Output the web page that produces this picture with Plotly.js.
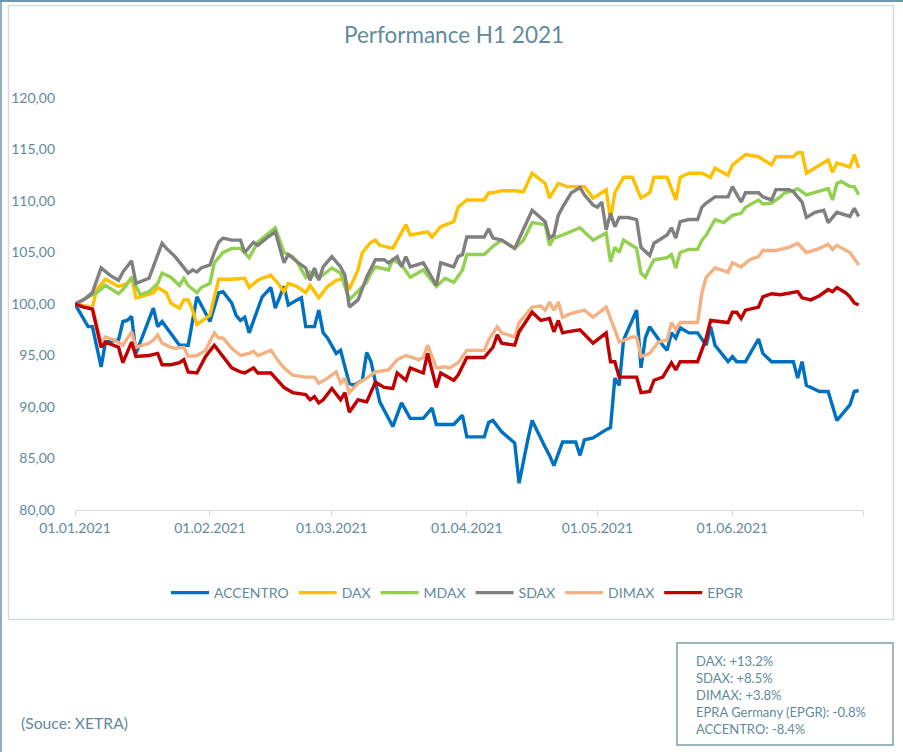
<!DOCTYPE html>
<html>
<head>
<meta charset="utf-8">
<script src="https://cdn.plot.ly/plotly-3.0.1.min.js"></script>
<style>
  body { margin: 0; background: #ffffff; }
  #container { width: 903px; height: 752px; }
</style>
</head>
<body>
<div id="container"></div>
<script>
// values, indexed to 100 on 01.01.2021
// days = calendar days since 01.01.2021
var seriesNames = ['ACCENTRO', 'DAX', 'MDAX', 'SDAX', 'DIMAX', 'EPGR'];
var seriesColors = ['#0070C0', '#FFC000', '#92D050', '#808080', '#F4B183', '#C00000'];

var accentroDays = [0,3,4,6,7,10,11,12,13,14,18,19,20,22,24,26,28,29,31,33,34,36,37,38,39,40,42,43,45,46,48,49,51,52,53,55,56,57,58,60,61,63,64,66,67,68,70,72,73,75,77,80,82,83,87,89,90,94,95,96,98,101,102,104,105,108,109,110,112,115,116,117,119,122,123,124,125,126,129,130,131,132,134,135,136,137,138,139,141,143,145,146,147,150,151,152,154,157,158,160,165,166,167,168,171,173,175,178,179,180];
var accentroValues = [100.0,97.8,97.8,93.9,96.3,96.5,98.3,98.4,98.8,95.2,99.6,97.8,98.3,97.2,96.0,96.0,100.7,99.9,98.3,101.1,101.2,100.1,98.9,98.4,98.7,97.2,99.6,100.7,101.6,99.6,101.7,99.9,100.4,100.6,97.8,97.8,99.4,97.2,96.7,95.2,95.5,92.3,92.1,92.6,95.3,94.4,90.5,89.0,88.1,90.4,88.9,88.9,89.9,88.3,88.3,89.2,87.1,87.1,88.5,88.7,87.6,86.5,82.6,86.8,88.7,86.1,85.3,84.3,86.6,86.6,85.3,86.8,87.0,87.8,88.0,92.8,92.1,96.5,99.4,93.8,96.7,97.8,96.5,96.0,95.5,97.2,96.7,97.7,97.2,97.2,96.0,97.8,96.0,94.4,94.9,94.4,94.4,96.6,95.2,94.4,94.4,92.8,94.4,92.1,91.5,91.5,88.7,90.2,91.5,91.6];

var daxDays = [0,4,5,7,10,12,13,14,15,18,19,21,22,24,25,26,27,28,29,31,32,33,36,39,40,42,43,45,47,48,49,51,53,54,56,58,60,62,63,65,66,68,69,70,73,74,76,77,81,82,84,87,88,90,94,95,96,98,101,103,105,108,109,111,113,117,119,121,122,123,124,126,128,130,132,133,136,138,139,141,144,146,147,150,151,154,157,160,161,165,166,167,168,173,174,175,178,179,180];
var daxValues = [100.0,99.7,101.4,102.4,101.7,102.0,102.6,100.6,100.7,101.1,101.6,101.1,100.1,99.6,100.4,100.4,99.4,98.0,98.3,98.9,100.7,102.4,102.4,102.5,101.6,102.3,102.5,102.8,101.8,101.2,102.0,101.7,101.1,101.8,100.6,101.7,102.3,102.5,101.4,103.3,105.0,106.0,106.2,105.7,105.4,106.2,107.7,106.7,107.0,106.5,107.5,108.0,109.4,110.1,110.1,110.8,110.8,111.0,111.0,110.9,112.7,111.7,110.3,111.7,111.4,111.4,110.3,110.8,111.1,108.2,110.8,112.3,112.3,110.3,110.8,112.3,112.3,110.1,112.3,112.7,112.7,112.3,113.2,112.5,113.5,114.5,114.3,113.5,114.3,114.3,114.7,114.7,112.7,114.0,112.8,113.7,113.3,114.5,113.2];

var mdaxDays = [0,5,7,10,11,13,15,17,19,20,22,24,25,26,28,29,31,32,34,36,38,40,42,44,46,48,50,51,53,54,56,59,61,63,65,67,68,69,72,73,75,77,80,83,85,87,89,90,94,96,98,101,103,105,108,109,110,112,116,117,119,122,123,124,125,126,129,130,131,132,133,136,137,138,139,141,143,144,145,147,149,151,153,154,157,158,160,162,163,165,166,168,173,174,175,176,178,179,180];
var mdaxValues = [100.0,101.1,101.8,101.0,101.4,102.5,100.9,101.2,102.0,103.0,102.6,101.8,102.5,101.8,101.1,101.6,102.0,104.0,105.0,105.4,105.4,104.5,106.0,106.7,107.4,105.0,104.6,104.1,102.6,103.1,102.5,103.5,103.0,100.4,101.2,102.1,103.0,103.6,103.3,104.3,103.8,102.6,103.3,101.7,102.5,102.1,103.3,104.8,104.8,105.6,106.2,105.4,106.2,107.9,107.7,105.7,106.4,106.7,107.4,107.0,106.2,106.9,104.1,105.5,105.0,106.2,105.4,103.0,102.6,103.5,104.3,104.5,104.8,103.5,105.0,105.3,105.3,106.2,106.7,108.2,107.9,108.6,108.8,109.4,110.1,109.7,109.8,110.4,110.8,111.0,111.2,110.6,111.2,110.1,111.7,111.9,111.4,111.4,110.6];

var sdaxDays = [0,2,4,6,8,10,11,13,14,17,20,21,23,24,26,27,28,29,31,32,33,34,36,38,39,41,42,44,46,48,49,51,53,54,55,56,57,59,61,62,63,65,66,67,69,71,72,74,75,76,77,80,81,82,83,84,87,88,89,90,94,95,96,98,101,105,108,109,110,111,112,114,116,117,119,120,121,122,123,124,125,127,129,130,132,133,135,136,137,138,139,141,143,144,145,147,150,151,153,154,157,158,160,161,164,165,167,168,170,172,173,175,178,179,180];
var sdaxValues = [100.0,100.4,101.1,103.5,102.8,102.3,103.1,104.2,102.0,102.5,105.9,105.4,104.6,104.1,103.0,103.3,103.1,103.5,103.8,105.0,106.0,106.4,106.2,106.2,105.0,106.0,105.7,106.4,107.0,104.0,104.8,104.1,103.5,102.3,103.5,102.3,103.6,104.6,103.6,102.8,99.7,100.4,101.4,102.6,104.3,104.3,104.0,104.6,103.6,104.6,103.6,104.0,103.3,102.6,101.8,104.0,103.6,104.6,104.8,106.5,106.5,107.3,106.4,106.2,105.4,109.1,108.0,106.4,106.7,108.6,109.4,110.8,111.3,110.6,109.6,109.4,109.9,107.2,108.8,107.5,108.4,108.4,108.2,105.5,104.7,105.9,106.4,106.7,107.4,106.4,108.0,108.2,108.2,109.4,109.8,110.4,110.4,111.4,109.9,110.8,110.8,110.4,110.1,111.1,111.1,110.9,109.9,108.4,108.9,109.1,107.9,108.9,108.5,109.3,108.5];

var dimaxDays = [0,2,4,6,7,9,11,13,14,17,18,19,20,22,23,25,26,28,30,32,33,34,36,38,40,41,42,45,47,48,50,53,55,56,58,60,61,62,63,65,67,69,72,74,76,79,80,81,83,85,86,88,90,94,95,97,98,101,102,105,107,108,109,110,111,112,114,117,119,122,124,125,128,129,130,132,134,136,137,138,139,143,144,145,147,150,151,153,155,157,158,161,164,166,168,171,173,174,175,178,180];
var dimaxValues = [100.0,99.7,99.7,96.3,96.8,96.5,96.0,97.3,95.8,96.2,96.5,97.0,96.2,95.8,95.7,95.8,94.9,95.0,95.5,97.2,96.7,96.7,95.7,95.0,95.2,95.4,95.0,95.5,94.3,93.8,93.1,92.9,92.9,92.3,92.8,93.4,92.3,92.8,91.4,92.3,92.8,93.4,93.6,94.6,95.0,94.6,94.8,96.0,93.8,93.9,93.8,94.3,95.5,95.5,96.5,97.8,97.2,96.8,98.2,99.7,99.8,99.4,100.2,99.4,100.2,98.7,99.1,99.4,98.7,99.7,97.5,96.3,96.8,96.8,94.9,95.2,96.3,96.5,98.2,97.5,98.2,98.2,101.1,102.6,103.5,103.1,104.0,103.6,104.3,104.6,105.2,105.2,105.5,105.9,105.0,105.4,105.8,105.3,105.7,105.0,103.8];

var epgrDays = [0,2,4,6,7,10,11,13,14,17,19,20,22,24,25,26,28,30,32,34,36,38,39,41,42,45,47,48,50,53,54,55,56,57,59,61,62,63,65,67,69,71,73,74,76,77,80,81,83,84,87,88,90,94,96,97,98,101,102,105,107,109,110,111,112,113,116,119,122,123,124,125,129,130,132,133,135,137,138,139,141,143,145,146,150,151,152,153,154,157,158,160,162,166,167,169,171,173,174,175,177,178,179,180];
var epgrValues = [100.0,99.7,99.5,95.8,96.3,95.8,94.3,96.3,94.9,95.0,95.2,94.1,94.1,94.3,94.6,93.4,93.3,94.9,96.0,94.9,93.8,93.4,93.3,93.8,93.3,93.3,92.4,91.9,91.4,91.2,90.7,91.0,90.4,90.7,91.8,90.7,91.4,89.5,90.7,90.5,92.4,91.9,91.8,93.3,92.6,93.8,93.3,95.2,91.9,93.3,92.6,93.1,94.8,94.8,95.8,97.0,96.2,96.0,97.3,99.2,98.4,98.6,97.3,98.4,97.2,97.3,97.5,96.2,97.2,94.4,94.4,92.9,92.9,91.4,91.5,92.6,92.9,94.3,93.6,94.4,94.4,94.4,96.7,98.4,98.2,99.2,99.2,98.6,99.4,99.7,100.7,101.0,100.9,101.2,100.6,100.4,100.8,101.4,101.2,101.6,101.1,100.7,100.1,99.9];

var xTickDates = ['2021-01-01','2021-02-01','2021-03-01','2021-04-01','2021-05-01','2021-06-01','2021-07-01'];
var xTickLabels = ['01.01.2021','01.02.2021','01.03.2021','01.04.2021','01.05.2021','01.06.2021',''];

var performanceLines = ['DAX: +13.2%', 'SDAX: +8.5%', 'DIMAX: +3.8%', 'EPRA Germany (EPGR): -0.8%', 'ACCENTRO: -8.4%'];

var allDays = [accentroDays, daxDays, mdaxDays, sdaxDays, dimaxDays, epgrDays];
var allValues = [accentroValues, daxValues, mdaxValues, sdaxValues, dimaxValues, epgrValues];

function dayToDate(d) {
    var t = new Date(Date.UTC(2021, 0, 1 + d));
    return t.toISOString().slice(0, 10);
}

var textColor = '#5F8A9C';
var fontFamily = 'Lato, "Open Sans", sans-serif';

var W = 903, H = 752;
var margin = {l: 75, r: 40, t: 98, b: 242};
var plotW = W - margin.l - margin.r;
var plotH = H - margin.t - margin.b;
// pixel -> paper helpers for the frame decorations
function px(x) { return (x - margin.l) / plotW; }
function py(y) { return (H - margin.b - y) / plotH; }

var data = [];
for (var i = 0; i < seriesNames.length; i++) {
    data.push({
        x: allDays[i].map(dayToDate),
        y: allValues[i],
        mode: 'lines',
        type: 'scatter',
        name: seriesNames[i],
        line: {color: seriesColors[i], width: 3.4}
    });
}

var layout = {
    width: W,
    height: H,
    margin: margin,
    paper_bgcolor: '#FFFFFF',
    plot_bgcolor: '#FFFFFF',
    separators: ',.',
    font: {family: fontFamily, size: 14, color: textColor},
    title: {
        text: 'Performance H1 2021',
        font: {family: fontFamily, size: 22.5, color: textColor},
        xref: 'container', yref: 'container',
        x: 454 / W, y: 1 - 35 / H,
        xanchor: 'center', yanchor: 'middle'
    },
    showlegend: true,
    legend: {
        orientation: 'h',
        x: px(457), y: py(593),
        xanchor: 'center', yanchor: 'middle',
        font: {family: fontFamily, size: 14, color: textColor},
        itemwidth: 38
    },
    xaxis: {
        type: 'date',
        range: ['2021-01-01', '2021-07-01'],
        tickmode: 'array',
        tickvals: xTickDates,
        ticktext: xTickLabels,
        showgrid: false,
        zeroline: false,
        showline: true,
        linecolor: '#D9D9D9',
        linewidth: 1,
        ticks: 'outside',
        ticklen: 5,
        tickcolor: '#D9D9D9',
        tickfont: {family: fontFamily, size: 14, color: textColor}
    },
    yaxis: {
        range: [80, 120],
        tick0: 80,
        dtick: 5,
        tickformat: '.2f',
        showgrid: false,
        zeroline: false,
        showline: false,
        ticks: '',
        ticklabelstandoff: 19,
        tickfont: {family: fontFamily, size: 14, color: textColor}
    },
    shapes: [
        // outer frame (left and top edge)
        {type: 'line', xref: 'paper', yref: 'paper', x0: px(1), x1: px(1), y0: py(0), y1: py(752),
         line: {color: '#8FB0C2', width: 2}},
        {type: 'line', xref: 'paper', yref: 'paper', x0: px(0), x1: px(903), y0: py(1), y1: py(1),
         line: {color: '#6E97AB', width: 2}},
        // chart box
        {type: 'rect', xref: 'paper', yref: 'paper', x0: px(8.5), x1: px(893.5), y0: py(619.5), y1: py(5.5),
         line: {color: '#D4DCE1', width: 1.5}, layer: 'below'},
        // performance box
        {type: 'rect', xref: 'paper', yref: 'paper', x0: px(677), x1: px(893), y0: py(745), y1: py(643),
         line: {color: '#7C9DAE', width: 1.5}}
    ],
    annotations: [
        {
            xref: 'paper', yref: 'paper',
            x: px(694), y: py(651),
            xanchor: 'left', yanchor: 'top',
            align: 'left',
            showarrow: false,
            text: performanceLines.join('<br>'),
            font: {family: fontFamily, size: 13, color: textColor}
        },
        {
            xref: 'paper', yref: 'paper',
            x: px(19), y: py(723),
            xanchor: 'left', yanchor: 'middle',
            showarrow: false,
            text: '(Souce: XETRA)',
            font: {family: fontFamily, size: 15.7, color: textColor}
        }
    ]
};

Plotly.newPlot('container', data, layout, {displayModeBar: false, staticPlot: true});
</script>
</body>
</html>
